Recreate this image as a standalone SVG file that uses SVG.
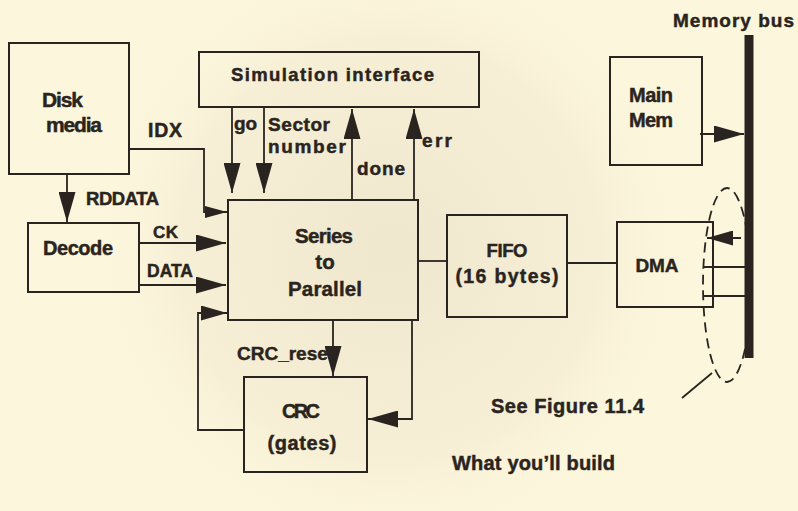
<svg xmlns="http://www.w3.org/2000/svg" width="798" height="511" viewBox="0 0 798 511">
  <defs>
    <radialGradient id="speck" cx="0.5" cy="0.5" r="0.5">
      <stop offset="0" stop-color="#e9e1c7" stop-opacity="0.7"/>
      <stop offset="0.7" stop-color="#efe7cd" stop-opacity="0.45"/>
      <stop offset="1" stop-color="#fcf6dc" stop-opacity="0"/>
    </radialGradient>
    <marker id="ah" markerUnits="userSpaceOnUse" viewBox="0 0 30 17" markerWidth="30" markerHeight="17" refX="30" refY="8.5" orient="auto">
      <path d="M0,0 L30,8.5 L0,17 z" fill="#2a2420"/>
    </marker>
    <marker id="ahm" markerUnits="userSpaceOnUse" viewBox="0 0 26 15" markerWidth="26" markerHeight="15" refX="26" refY="7.5" orient="auto">
      <path d="M0,0 L26,7.5 L0,15 z" fill="#2a2420"/>
    </marker>
    <marker id="ahs" markerUnits="userSpaceOnUse" viewBox="0 0 22 12" markerWidth="22" markerHeight="12" refX="22" refY="6" orient="auto">
      <path d="M0,0 L22,6 L0,12 z" fill="#2a2420"/>
    </marker>
  </defs>
  <style>
    .box { fill: none; stroke: #2a2420; stroke-width: 2; }
    .ln { fill: none; stroke: #2a2420; stroke-width: 1.8; }
    .big { marker-end: url(#ah); }
    .med { marker-end: url(#ahm); }
    .sml { marker-end: url(#ahs); }
    text { font-family: "Liberation Sans", Arial, sans-serif; font-weight: bold; fill: #2a2420; stroke: #2a2420; stroke-width: 0.45; }
    .c { text-anchor: middle; }
  </style>

  <rect x="0" y="0" width="798" height="511" fill="#fcf6dc"/>
  <ellipse cx="390" cy="250" rx="300" ry="300" fill="url(#speck)"/>

  <g id="disk-media">
    <rect class="box" x="9" y="43" width="120" height="131"/>
    <text x="42" y="107" font-size="21" textLength="41">Disk</text>
    <text x="46" y="132" font-size="21" textLength="56">media</text>
  </g>

  <g id="decode">
    <rect class="box" x="28" y="223" width="111" height="69"/>
    <text x="43" y="255" font-size="20" textLength="70">Decode</text>
  </g>

  <g id="simulation-interface">
    <rect class="box" x="199" y="52" width="280" height="55"/>
    <text x="231" y="81" font-size="18.5" textLength="203">Simulation interface</text>
  </g>

  <g id="series-to-parallel">
    <rect class="box" x="228" y="200" width="190" height="120"/>
    <text class="c" x="324" y="243" font-size="20.5" textLength="58">Series</text>
    <text class="c" x="325" y="269" font-size="20.5">to</text>
    <text class="c" x="325" y="296" font-size="20.5" textLength="74">Parallel</text>
  </g>

  <g id="crc">
    <rect class="box" x="244" y="377" width="123" height="95"/>
    <text class="c" x="301" y="418" font-size="20" textLength="38">CRC</text>
    <text class="c" x="302" y="450" font-size="20" textLength="69">(gates)</text>
  </g>

  <g id="fifo">
    <rect class="box" x="447" y="215" width="120" height="102"/>
    <text class="c" x="507" y="257" font-size="18.5" textLength="41">FIFO</text>
    <text class="c" x="507" y="283" font-size="19.5" textLength="103">(16 bytes)</text>
  </g>

  <g id="dma">
    <rect class="box" x="617" y="222" width="96" height="85"/>
    <text class="c" x="657" y="272" font-size="19" textLength="43">DMA</text>
  </g>

  <g id="main-mem">
    <rect class="box" x="610" y="57" width="92" height="108"/>
    <text x="629" y="102" font-size="20" textLength="44">Main</text>
    <text x="629" y="127" font-size="20" textLength="44">Mem</text>
  </g>

  <g id="memory-bus">
    <rect x="744.5" y="35" width="9" height="323" fill="#2a2420"/>
    <text x="673" y="27" font-size="19" textLength="121">Memory bus</text>
  </g>

  <g id="connectors">
    <line class="ln big" x1="67" y1="174" x2="67" y2="222"/>
    <polyline class="ln sml" points="129,149 204,149 204,212 227,212"/>
    <line class="ln big" x1="139" y1="243" x2="226" y2="243"/>
    <line class="ln big" x1="139" y1="285" x2="226" y2="285"/>
    <line class="ln big" x1="232" y1="107" x2="232" y2="193"/>
    <line class="ln big" x1="264" y1="107" x2="264" y2="193"/>
    <line class="ln big" x1="352" y1="200" x2="352" y2="109"/>
    <line class="ln big" x1="414" y1="200" x2="414" y2="109"/>
    <line class="ln" x1="418" y1="261" x2="447" y2="261"/>
    <line class="ln" x1="567" y1="263" x2="617" y2="263"/>
    <line class="ln big" x1="333" y1="320" x2="333" y2="376"/>
    <polyline class="ln big" points="412,320 412,419 368,419"/>
    <polyline class="ln med" points="245,430 198,430 198,313 227,313"/>
    <line class="ln big" x1="700" y1="134" x2="744" y2="134"/>
    <line class="ln med" x1="741" y1="238" x2="707" y2="238"/>
    <line class="ln" x1="703" y1="267" x2="745" y2="267"/>
    <line class="ln" x1="703" y1="296" x2="745" y2="296"/>
    <ellipse cx="727" cy="285" rx="24" ry="97" fill="none" stroke="#2a2420" stroke-width="1.8" stroke-dasharray="10 6"/>
    <line class="ln" x1="682" y1="398" x2="712" y2="373"/>
  </g>

  <g id="labels">
    <text x="148" y="137" font-size="19.5" textLength="34">IDX</text>
    <text x="86" y="205" font-size="18.5" textLength="73">RDDATA</text>
    <text x="153" y="238" font-size="17" textLength="25">CK</text>
    <text x="147" y="277" font-size="17.5" textLength="46">DATA</text>
    <text x="234" y="130" font-size="19" textLength="23">go</text>
    <text x="268" y="131" font-size="19" textLength="62">Sector</text>
    <text x="268" y="153" font-size="19" textLength="78">number</text>
    <text x="357" y="175" font-size="19" textLength="48">done</text>
    <text x="422" y="147" font-size="19" textLength="30">err</text>
    <text x="237" y="360" font-size="19">CRC_reset</text>
    <text x="491" y="413" font-size="20" textLength="153">See Figure 11.4</text>
    <text x="452" y="470" font-size="20" textLength="163">What you’ll build</text>
  </g>
</svg>
